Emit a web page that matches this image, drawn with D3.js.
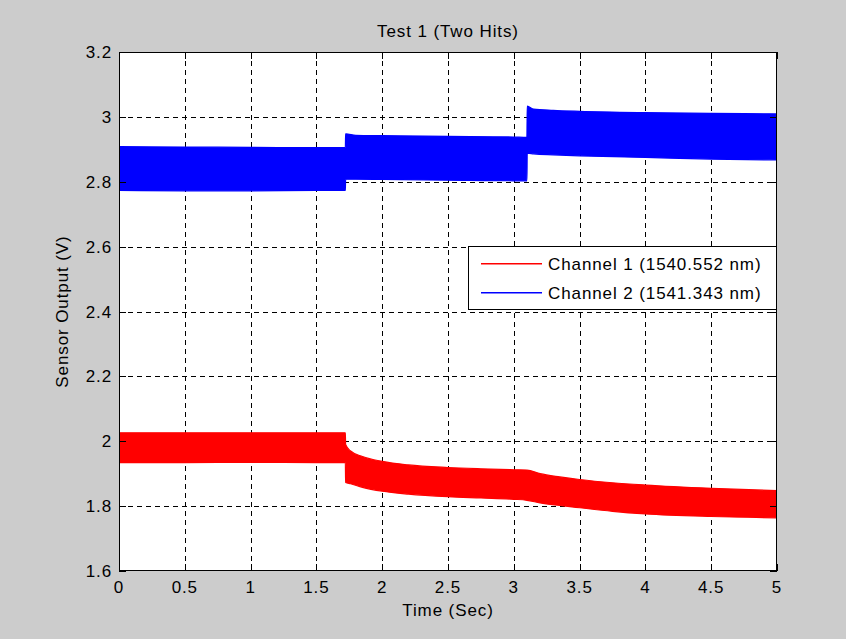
<!DOCTYPE html>
<html>
<head>
<meta charset="utf-8">
<script src="https://cdn.jsdelivr.net/npm/d3@7/dist/d3.min.js"></script>
<style>
  html, body { margin: 0; padding: 0; background: #cccccc; }
  svg { display: block; }
  text { font-family: "Liberation Sans", Arial, Helvetica, sans-serif; font-size: 17px; letter-spacing: 0.9px; fill: #000; }
</style>
</head>
<body>
<svg id="chart" width="846" height="639"></svg>
<script>
// ---- data (envelope of each noisy trace) ----
const chartTitle = "Test 1 (Two Hits)";
const xLabel = "Time (Sec)";
const yLabel = "Sensor Output (V)";
const xTicks = [0, 0.5, 1, 1.5, 2, 2.5, 3, 3.5, 4, 4.5, 5];
const yTicks = [1.6, 1.8, 2.0, 2.2, 2.4, 2.6, 2.8, 3.0, 3.2];
const seriesNames = ["Channel 1 (1540.552 nm)", "Channel 2 (1541.343 nm)"];

// Channel 1 (red)
const ch1Time  = [0,     0.5,   1.0,   1.5,   1.72,  1.722, 1.76,  1.85,  2.0,   2.2,   2.5,   2.75,  3.0,   3.1,   3.2,   3.35,  3.5,   3.75,  4.0,   4.5,   5.0];
const ch1Upper = [2.026, 2.026, 2.026, 2.026, 2.026, 1.990, 1.970, 1.953, 1.938, 1.927, 1.919, 1.915, 1.912, 1.911, 1.900, 1.890, 1.882, 1.872, 1.865, 1.855, 1.848];
const ch1Lower = [1.934, 1.934, 1.935, 1.934, 1.934, 1.873, 1.869, 1.858, 1.846, 1.837, 1.829, 1.825, 1.821, 1.818, 1.810, 1.802, 1.795, 1.784, 1.776, 1.768, 1.764];

// Channel 2 (blue)
const ch2Time  = [0,     0.5,   1.0,   1.5,   1.72,  1.722, 1.8,   2.0,   2.5,   3.0,   3.1,   3.102, 3.15,  3.3,   3.5,   4.0,   4.5,   5.0];
const ch2Upper = [2.908, 2.907, 2.906, 2.905, 2.905, 2.948, 2.943, 2.942, 2.940, 2.938, 2.937, 3.033, 3.024, 3.020, 3.017, 3.013, 3.011, 3.009];
const ch2Lower = [2.773, 2.772, 2.772, 2.773, 2.773, 2.808, 2.808, 2.807, 2.805, 2.803, 2.803, 2.888, 2.886, 2.883, 2.880, 2.875, 2.870, 2.867];

const colors = ["#ff0000", "#0000ff"];

// ---- layout ----
const svg = d3.select("#chart");
const L = 119, R = 777, T = 52, B = 571;
const x = d3.scaleLinear().domain([0, 5]).range([L, R]);
const y = d3.scaleLinear().domain([1.6, 3.2]).range([B, T]);

svg.append("rect").attr("width", 846).attr("height", 639).attr("fill", "#cccccc");
svg.append("rect").attr("x", L).attr("y", T).attr("width", R - L).attr("height", B - T).attr("fill", "#fff");

svg.append("clipPath").attr("id", "clip").append("rect")
  .attr("x", L).attr("y", T).attr("width", R - L).attr("height", B - T);

// grid
const grid = svg.append("g").attr("stroke", "#000").attr("stroke-width", 1).attr("stroke-dasharray", "5,4");
grid.selectAll("line.gx").data(xTicks.slice(1, -1)).join("line")
  .attr("x1", d => Math.round(x(d)) + 0.5).attr("x2", d => Math.round(x(d)) + 0.5)
  .attr("y1", T).attr("y2", B);
grid.selectAll("line.gy").data(yTicks.slice(1, -1)).join("line")
  .attr("y1", d => Math.round(y(d)) + 0.5).attr("y2", d => Math.round(y(d)) + 0.5)
  .attr("x1", L).attr("x2", R);

// bands
function band(times, up, lo) {
  const pts = times.map((t, i) => ({ t, u: up[i], l: lo[i] }));
  return d3.area().x(d => x(d.t)).y0(d => y(d.l)).y1(d => y(d.u)).curve(d3.curveMonotoneX)(pts);
}
const plot = svg.append("g").attr("clip-path", "url(#clip)");
plot.append("path").attr("d", band(ch2Time, ch2Upper, ch2Lower)).attr("fill", colors[1]).attr("stroke", colors[1]).attr("stroke-width", 1.2);
plot.append("path").attr("d", band(ch1Time, ch1Upper, ch1Lower)).attr("fill", colors[0]).attr("stroke", colors[0]).attr("stroke-width", 1.2);

// ticks (inside, all four sides)
const tl = 7;
const ticks = svg.append("g").attr("stroke", "#000").attr("stroke-width", 1);
xTicks.forEach(d => {
  const xx = Math.round(x(d)) + 0.5;
  ticks.append("line").attr("x1", xx).attr("x2", xx).attr("y1", B).attr("y2", B - tl);
  ticks.append("line").attr("x1", xx).attr("x2", xx).attr("y1", T).attr("y2", T + tl);
});
yTicks.forEach(d => {
  const yy = Math.round(y(d)) + 0.5;
  ticks.append("line").attr("y1", yy).attr("y2", yy).attr("x1", L).attr("x2", L + tl);
  ticks.append("line").attr("y1", yy).attr("y2", yy).attr("x1", R).attr("x2", R - tl);
});

// frame
svg.append("rect").attr("x", L + 0.5).attr("y", T + 0.5).attr("width", R - L - 1).attr("height", B - T - 1)
  .attr("fill", "none").attr("stroke", "#000").attr("stroke-width", 1);

// tick labels
const fmt = d => String(+d.toFixed(1));
svg.append("g").selectAll("text").data(xTicks).join("text")
  .attr("x", d => x(d)).attr("y", 593).attr("text-anchor", "middle").text(d => fmt(d));
svg.append("g").selectAll("text").data(yTicks).join("text")
  .attr("x", 112).attr("y", d => y(d) + 6).attr("text-anchor", "end").text(d => fmt(d));

// titles
svg.append("text").attr("x", (L + R) / 2).attr("y", 37).attr("text-anchor", "middle").text(chartTitle);
svg.append("text").attr("x", (L + R) / 2).attr("y", 616).attr("text-anchor", "middle").text(xLabel);
svg.append("text").attr("transform", `translate(68,${(T + B) / 2}) rotate(-90)`).attr("text-anchor", "middle").text(yLabel);

// legend
const lg = svg.append("g");
lg.append("rect").attr("x", 468.5).attr("y", 246.5).attr("width", 308).attr("height", 63)
  .attr("fill", "#fff").attr("stroke", "#000").attr("stroke-width", 1);
seriesNames.forEach((name, i) => {
  const yy = 263 + i * 29;
  lg.append("rect").attr("x", 481).attr("y", yy).attr("width", 61).attr("height", 1.5)
    .attr("fill", colors[i]);
  lg.append("text").attr("x", 548).attr("y", yy + 7).text(name);
});
</script>
</body>
</html>
